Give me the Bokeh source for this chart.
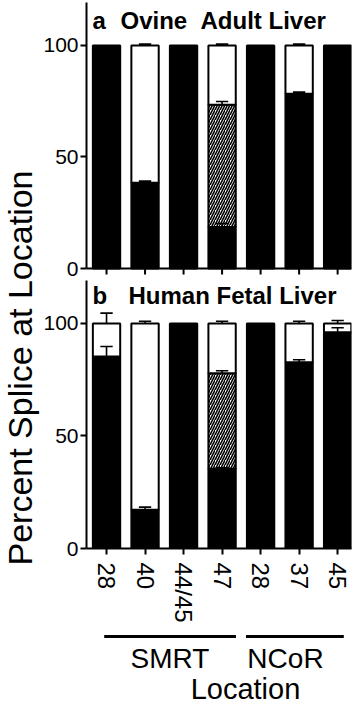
import numpy as np
from bokeh.plotting import figure
from bokeh.layouts import row, column
from bokeh.models import FixedTicker, Range1d
from bokeh.core.properties import value
from bokeh.embed import file_html
from bokeh.resources import INLINE

# ---------------- data ----------------
locations = ["28", "40", "44/45", "47", "28", "37", "45"]
groups = ["SMRT", "NCoR"]
panel_letters = ["a", "b"]
panel_titles = ["Ovine \u00a0Adult Liver", "Human Fetal Liver"]
y_ticks = [0, 50, 100]

# panel a: Ovine Adult Liver (percent of splice at location)
a_black = [100, 38.5, 100, 18.6, 100, 78.4, 100]
a_hatched = [0, 0, 0, 54.8, 0, 0, 0]
a_white = [0, 61.5, 0, 26.6, 0, 21.6, 0]
a_black_err = [0, 0.7, 0, 1.6, 0, 0.7, 0]
a_hatched_err = [0, 0, 0, 1.5, 0, 0, 0]
a_white_err = [0, 0.6, 0, 0.6, 0, 0.6, 0]

# panel b: Human Fetal Liver
b_black = [85.3, 17.2, 100, 35.4, 100, 82.8, 96.1]
b_hatched = [0, 0, 0, 42.5, 0, 0, 0]
b_white = [14.7, 82.8, 0, 22.1, 0, 17.2, 3.9]
b_black_err = [4.5, 1.2, 0, 0.5, 0, 1.1, 2.0]
b_hatched_err = [0, 0, 0, 1.1, 0, 0, 0]
b_white_err = [4.6, 1.0, 0, 1.0, 0, 1.0, 1.3]

FONT = "Liberation Sans"
BAR_W = 0.71
CAP_HALF = 0.16
X0, X1 = -0.52, 6.36
x = np.arange(len(locations))
x_range = Range1d(X0, X1)


def style_yaxis(p, y_end):
    ya = p.yaxis[0]
    ya.ticker = FixedTicker(ticks=y_ticks)
    ya.bounds = (0, y_end)
    ya.axis_line_width = 2
    ya.major_tick_line_width = 2
    ya.major_tick_out = 6
    ya.major_tick_in = 0
    ya.minor_tick_out = 0
    ya.minor_tick_in = 0
    ya.major_label_standoff = 2
    ya.major_label_text_font = FONT
    ya.major_label_text_font_size = "21px"
    ya.major_label_text_color = "black"


def draw_bars(p, black, hatched, white, black_err, hatched_err, white_err,
              letter, title, title_x, title_y):
    black = np.array(black, float)
    hatched = np.array(hatched, float)
    white = np.array(white, float)
    b_top = black
    h_top = black + hatched
    w_top = h_top + white

    m = black > 0
    p.vbar(x=x[m], bottom=0, top=b_top[m], width=BAR_W,
           fill_color="black", line_color="black", line_width=2)
    m = hatched > 0
    if m.any():
        p.vbar(x=x[m], bottom=b_top[m], top=h_top[m], width=BAR_W,
               fill_color="white", line_color="black", line_width=2,
               hatch_pattern="/", hatch_color="black", hatch_scale=5,
               hatch_weight=1.6)
    m = white > 0
    p.vbar(x=x[m], bottom=h_top[m], top=w_top[m], width=BAR_W,
           fill_color="white", line_color="black", line_width=2)

    # error bars (upper only, with caps)
    for top, err in ((b_top, black_err), (h_top, hatched_err), (w_top, white_err)):
        err = np.array(err, float)
        m = err > 0
        if not m.any():
            continue
        p.segment(x0=x[m], y0=top[m], x1=x[m], y1=top[m] + err[m],
                  line_color="black", line_width=1.6)
        p.segment(x0=x[m] - CAP_HALF, y0=top[m] + err[m],
                  x1=x[m] + CAP_HALF, y1=top[m] + err[m],
                  line_color="black", line_width=1.6)

    # panel letter and title
    p.text(x=[-0.364], y=[title_y], text=[letter],
           text_font=value(FONT), text_font_size="24px", text_font_style="bold",
           text_align="left", text_baseline="middle", text_color="black")
    p.text(x=[title_x], y=[title_y], text=[title],
           text_font=value(FONT), text_font_size="24px", text_font_style="bold",
           text_align="left", text_baseline="middle", text_color="black")


# ---------- panel a (x axis drawn as marks, no labels) ----------
A_END = 119.28
A_START = -5.38
A_TICK = -2.69
fa = figure(width=317, height=280, x_range=x_range,
            y_range=Range1d(A_START, A_END), title=None,
            output_backend="svg", toolbar_location=None,
            x_axis_location=None,
            min_border_left=46, min_border_right=6,
            min_border_top=2, min_border_bottom=0)
fa.outline_line_color = None
fa.grid.visible = False
draw_bars(fa, a_black, a_hatched, a_white, a_black_err, a_hatched_err, a_white_err,
          panel_letters[0], panel_titles[0], 0.363, 111.4)
fa.segment(x0=[X0 - 0.05], y0=[0], x1=[X1], y1=[0], line_color="black", line_width=2)
fa.segment(x0=x, y0=np.zeros(len(x)), x1=x, y1=np.full(len(x), A_TICK),
           line_color="black", line_width=2)
style_yaxis(fa, A_END)

# ---------- panel b ----------
B_END = 119.1
fb = figure(width=317, height=350, x_range=x_range,
            y_range=Range1d(0, B_END), title=None,
            output_backend="svg", toolbar_location=None,
            min_border_left=46, min_border_right=6,
            min_border_top=0, min_border_bottom=82)
fb.outline_line_color = None
fb.grid.visible = False
draw_bars(fb, b_black, b_hatched, b_white, b_black_err, b_hatched_err, b_white_err,
          panel_letters[1], panel_titles[1], 0.57, 112.4)
style_yaxis(fb, B_END)
xa = fb.xaxis[0]
xa.ticker = FixedTicker(ticks=list(x))
xa.axis_line_width = 2
xa.major_tick_line_width = 2
xa.major_tick_out = 6
xa.major_tick_in = 0
xa.minor_tick_out = 0
xa.minor_tick_in = 0
xa.major_label_overrides = {int(i): lab for i, lab in zip(x, locations)}
xa.major_label_orientation = "vertical"
xa.major_label_standoff = 8
xa.major_label_text_font = FONT
xa.major_label_text_font_size = "24px"
xa.major_label_text_color = "black"

# ---------- group brackets and axis title below panel b ----------
fc = figure(width=317, height=75, x_range=x_range, y_range=Range1d(0, 75),
            title=None, output_backend="svg", toolbar_location=None,
            x_axis_type=None, y_axis_type=None,
            min_border_left=46, min_border_right=6,
            min_border_top=0, min_border_bottom=0)
fc.outline_line_color = None
group_spans = [(-0.06, 3.36), (3.62, 6.16)]
group_centers = [1.648, 4.646]
fc.segment(x0=[s[0] for s in group_spans], y0=[69, 69],
           x1=[s[1] for s in group_spans], y1=[69, 69],
           line_color="black", line_width=3)
fc.text(x=group_centers, y=[47, 47], text=groups,
        text_font=value(FONT), text_font_size="28px",
        text_align="center", text_baseline="middle", text_color="black")
fc.text(x=[3.608], y=[16.5], text=["Location"],
        text_font=value(FONT), text_font_size="29px",
        text_align="center", text_baseline="middle", text_color="black")

# ---------- shared y-axis title ----------
fl = figure(width=40, height=705, x_range=Range1d(0, 40), y_range=Range1d(0, 705),
            title=None, output_backend="svg", toolbar_location=None,
            x_axis_type=None, y_axis_type=None,
            min_border_left=0, min_border_right=0,
            min_border_top=0, min_border_bottom=0)
fl.outline_line_color = None
fl.text(x=[19.5], y=[337.5], text=["Percent Splice at Location"], angle=np.pi / 2,
        text_font=value(FONT), text_font_size="34px",
        text_align="center", text_baseline="middle", text_color="black")

layout = row(fl, column(fa, fb, fc))
open("out.html", "w").write(file_html(layout, INLINE))
